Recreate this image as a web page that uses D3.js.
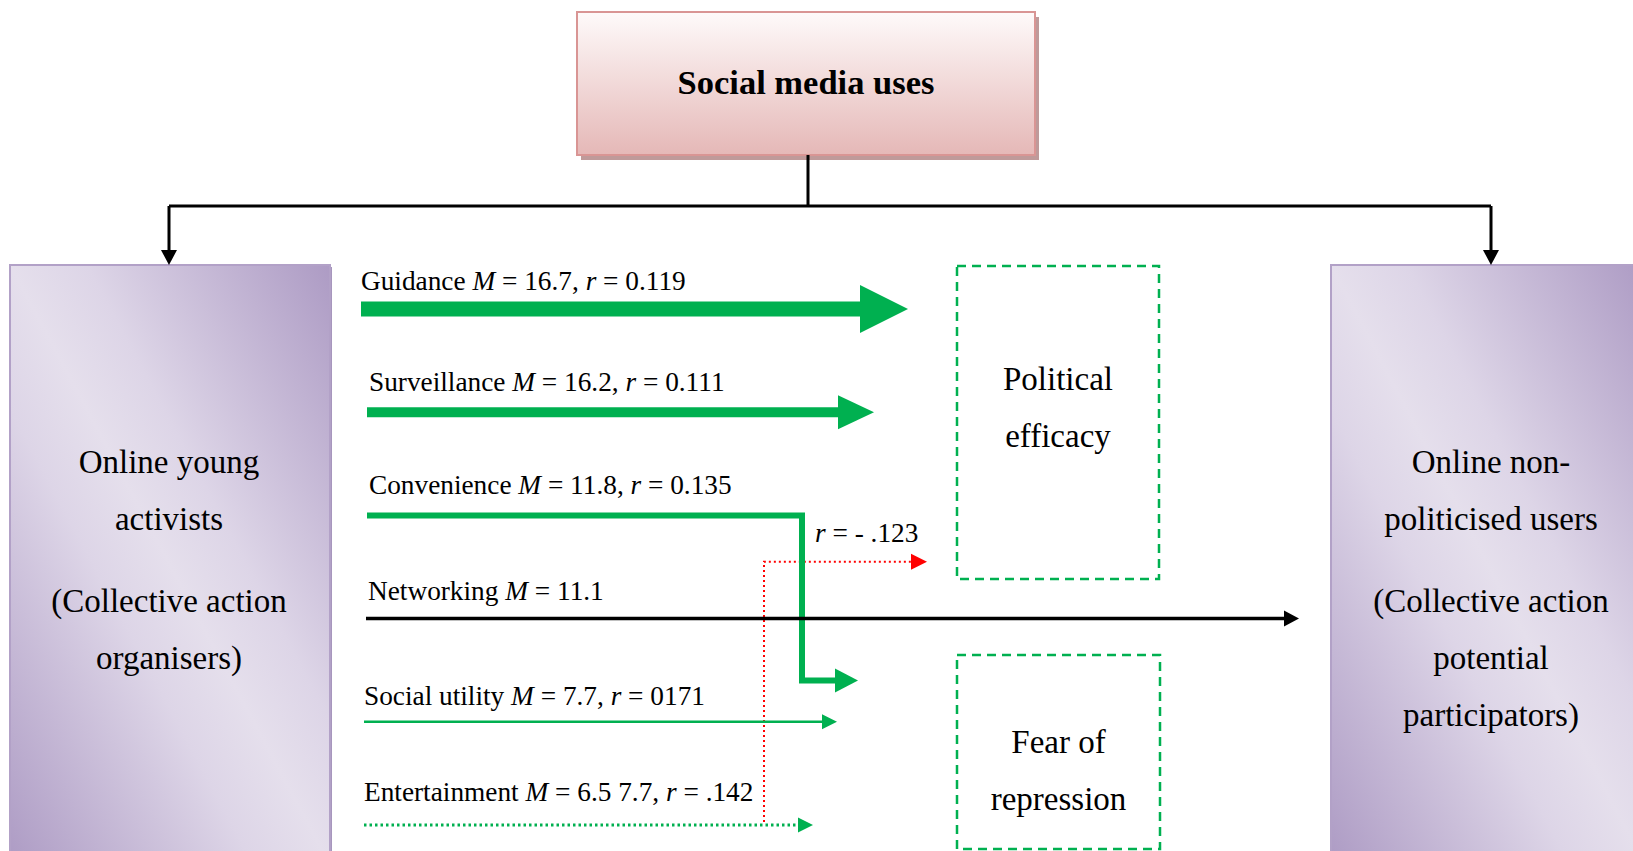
<!DOCTYPE html>
<html>
<head>
<meta charset="utf-8">
<script src="https://cdn.jsdelivr.net/npm/d3@7"></script>
<style>
  html, body { margin: 0; padding: 0; background: #ffffff; }
  svg { display: block; }
  text { font-family: "Liberation Serif", "DejaVu Serif", serif; fill: #000; }
</style>
</head>
<body>
<svg id="chart" width="1633" height="851"></svg>
<script>
// ---------------- data ----------------
const rootLabel = "Social media uses";
const uses = ["Guidance", "Surveillance", "Convenience", "Networking", "Social utility", "Entertainment"];
const meanLabels = ["16.7", "16.2", "11.8", "11.1", "7.7", "6.5 7.7"];
const corrLabels = ["0.119", "0.111", "0.135", null, "0171", ".142"];
const negativeCorr = "- .123";
const outcomes = ["Political efficacy", "Fear of repression"];
const outcomeLines = [["Political", "efficacy"], ["Fear of", "repression"]];
const groupLines = [
  [["Online young", "activists"], ["(Collective action", "organisers)"]],
  [["Online non-", "politicised users"], ["(Collective action", "potential", "participators)"]]
];

// ---------------- layout / style (not data) ----------------
const W = 1633, H = 851;
const GREEN = "#00b050", RED = "#ff0000";
const LABEL_SIZE = 27.3, BIG_SIZE = 33;
const rowStyle = [
  { w: 15, end: 908, head: 48, half: 24, color: GREEN, dash: null, lx: 361, start: 361, ly: 19 },
  { w: 10, end: 874, head: 36, half: 17, color: GREEN, dash: null, lx: 369, start: 367, ly: 21 },
  { w: 6, end: 858, head: 23, half: 12, color: GREEN, dash: null, lx: 369, start: 367, ly: 21 },
  { w: 3.5, end: 1299, head: 15, half: 8, color: "#000", dash: null, lx: 368, start: 366, ly: 19 },
  { w: 2.5, end: 837, head: 15, half: 7.5, color: GREEN, dash: null, lx: 364, start: 364, ly: 17 },
  { w: 2.8, end: 813, head: 15, half: 7.5, color: GREEN, dash: "2.5,3", lx: 364, start: 364, ly: 24 }
];

const svg = d3.select("#chart");
const defs = svg.append("defs");

// gradients
const gTop = defs.append("linearGradient").attr("id", "gTop")
  .attr("x1", 0).attr("y1", 0).attr("x2", 0).attr("y2", 1);
gTop.append("stop").attr("offset", 0).attr("stop-color", "#fefafa");
gTop.append("stop").attr("offset", 1).attr("stop-color", "#e5b8b7");

const gSide = defs.append("linearGradient").attr("id", "gSide")
  .attr("x1", 1).attr("y1", 0).attr("x2", 0).attr("y2", 1);
[[0, "#ad9bc4"], [0.38, "#ddd5e7"], [0.5, "#e5dfec"], [0.62, "#ddd5e7"], [1, "#ad9bc4"]]
  .forEach(([o, c]) => gSide.append("stop").attr("offset", o).attr("stop-color", c));

// scales
const yRow = d3.scalePoint().domain(uses).range([309, 825]);
const x = d3.scaleLinear().domain([0, W]).range([0, W]);

function arrowHead(tipX, tipY, len, half) {
  const p = d3.path();
  p.moveTo(x(tipX), tipY);
  p.lineTo(x(tipX - len), tipY - half);
  p.lineTo(x(tipX - len), tipY + half);
  p.closePath();
  return p.toString();
}
function arrowHeadDown(tipX, tipY, len, half) {
  const p = d3.path();
  p.moveTo(x(tipX), tipY);
  p.lineTo(x(tipX - half), tipY - len);
  p.lineTo(x(tipX + half), tipY - len);
  p.closePath();
  return p.toString();
}

// ---------------- top box ----------------
const topBox = { x0: 577, x1: 1035, y0: 12, y1: 155 };
svg.append("rect").attr("x", topBox.x0 + 4).attr("y", topBox.y0 + 5)
  .attr("width", topBox.x1 - topBox.x0).attr("height", topBox.y1 - topBox.y0).attr("fill", "#bf9a9a");
svg.append("rect").attr("x", topBox.x0).attr("y", topBox.y0)
  .attr("width", topBox.x1 - topBox.x0).attr("height", topBox.y1 - topBox.y0)
  .attr("fill", "url(#gTop)").attr("stroke", "#d99594").attr("stroke-width", 2);
svg.append("text").attr("x", (topBox.x0 + topBox.x1) / 2).attr("y", 94)
  .attr("text-anchor", "middle").attr("font-size", 34.5).attr("font-weight", "bold")
  .text(rootLabel);

// ---------------- side boxes ----------------
const sideBoxes = [{ x0: 10, x1: 330, cx: 169 }, { x0: 1331, x1: 1645, cx: 1491 }];
sideBoxes.forEach((b, i) => {
  svg.append("rect").attr("x", b.x0 + 2).attr("y", 267).attr("width", b.x1 - b.x0).attr("height", 600)
    .attr("fill", "#a796bd");
  svg.append("rect").attr("x", b.x0).attr("y", 265).attr("width", b.x1 - b.x0).attr("height", 600)
    .attr("fill", "url(#gSide)").attr("stroke", "#b2a1c7").attr("stroke-width", 2);
  const g = svg.append("g");
  let y = 473;
  groupLines[i].forEach((para, pi) => {
    if (pi > 0) y += 82;
    para.forEach((ln, li) => {
      if (li > 0) y += 57;
      g.append("text").attr("x", b.cx).attr("y", y).attr("text-anchor", "middle")
        .attr("font-size", BIG_SIZE).text(ln);
    });
  });
});

// ---------------- connectors ----------------
const conn = svg.append("g").attr("stroke", "#000").attr("stroke-width", 3).attr("fill", "none");
conn.append("path").attr("d", `M${x(808)},${topBox.y1}V206M${x(169)},206H${x(1491)}M${x(169)},206V252M${x(1491)},206V252`);
sideBoxes.forEach(b => svg.append("path").attr("d", arrowHeadDown(b.cx, 265, 15, 8)).attr("fill", "#000"));

// ---------------- outcome boxes ----------------
const outBoxes = [{ x0: 957, x1: 1159, y0: 266, y1: 579, ty: 390 }, { x0: 957, x1: 1160, y0: 655, y1: 849, ty: 753 }];
outBoxes.forEach((b, i) => {
  svg.append("rect").attr("x", b.x0).attr("y", b.y0).attr("width", b.x1 - b.x0).attr("height", b.y1 - b.y0)
    .attr("fill", "none").attr("stroke", GREEN).attr("stroke-width", 2.5).attr("stroke-dasharray", "9,6");
  outcomeLines[i].forEach((ln, li) => {
    svg.append("text").attr("x", (b.x0 + b.x1) / 2).attr("y", b.ty + li * 57)
      .attr("text-anchor", "middle").attr("font-size", BIG_SIZE).text(ln);
  });
});

// ---------------- red dotted path (negative correlation) ----------------
const redY = yRow("Convenience") + 0.45 * (yRow("Networking") - yRow("Convenience"));
svg.append("path")
  .attr("d", `M${x(764)},${yRow("Entertainment") - 3}V${redY}H${x(912)}`)
  .attr("fill", "none").attr("stroke", RED).attr("stroke-width", 2).attr("stroke-dasharray", "2,3");
svg.append("path").attr("d", arrowHead(927, redY, 16, 8)).attr("fill", RED);
svg.append("text").attr("x", 815).attr("y", redY - 20).attr("font-size", LABEL_SIZE)
  .html(`<tspan font-style="italic">r</tspan> = ${negativeCorr}`);

// ---------------- use arrows ----------------
uses.forEach((u, i) => {
  const s = rowStyle[i];
  const y = yRow(u);
  let d;
  if (u === "Convenience") {
    const yb = yRow("Networking") + 0.6 * (yRow("Social utility") - yRow("Networking"));
    d = `M${x(s.start)},${y}H${x(802)}V${yb}H${x(s.end - s.head + 1)}`;
    svg.append("path").attr("d", d).attr("fill", "none").attr("stroke", s.color)
      .attr("stroke-width", s.w).attr("stroke-linejoin", "miter");
    svg.append("path").attr("d", arrowHead(s.end, yb, s.head, s.half)).attr("fill", s.color);
  } else {
    d = `M${x(s.start)},${y}H${x(s.end - s.head + 1)}`;
    const p = svg.append("path").attr("d", d).attr("fill", "none").attr("stroke", s.color)
      .attr("stroke-width", s.w);
    if (s.dash) p.attr("stroke-dasharray", s.dash);
    svg.append("path").attr("d", arrowHead(s.end, y, s.head, s.half)).attr("fill", s.color);
  }
  // label
  let html = `${u} <tspan font-style="italic">M</tspan> = ${meanLabels[i]}`;
  if (corrLabels[i] !== null) html += `, <tspan font-style="italic">r</tspan> = ${corrLabels[i]}`;
  svg.append("text").attr("x", s.lx).attr("y", y - s.ly).attr("font-size", LABEL_SIZE).html(html);
});
</script>
</body>
</html>
